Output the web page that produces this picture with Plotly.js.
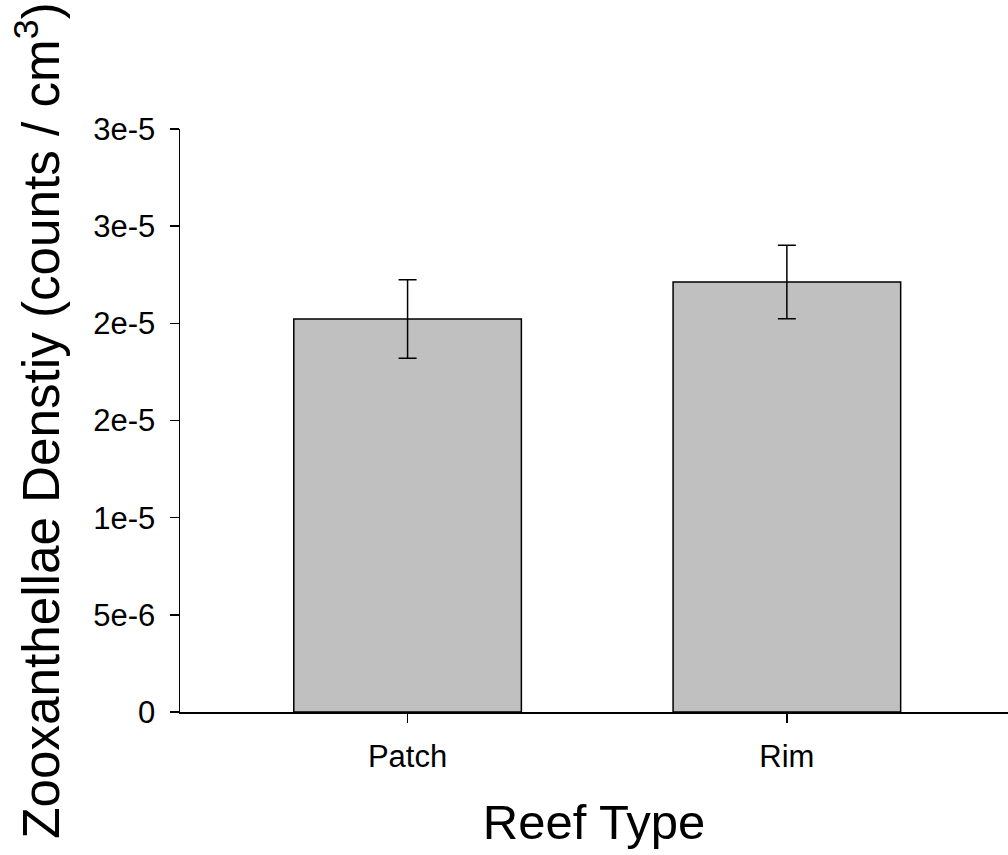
<!DOCTYPE html>
<html>
<head>
<meta charset="utf-8">
<script src="https://cdn.plot.ly/plotly-3.0.1.min.js"></script>
<style>
html,body{margin:0;padding:0;background:#fff;}
#chart{width:1008px;height:855px;}
</style>
</head>
<body>
<div id="chart"></div>
<script>
const categories = ["Patch", "Rim"];
const density = [2.022e-5, 2.213e-5];
const densityErr = [2.02e-6, 1.89e-6];
const yTickVals = [0, 5e-6, 1e-5, 1.5e-5, 2e-5, 2.5e-5, 3e-5];
const yTickText = ["0", "5e-6", "1e-5", "2e-5", "2e-5", "3e-5", "3e-5"];

const FONT = "Liberation Sans, Arial, sans-serif";

const trace = {
  type: "bar",
  x: categories,
  y: density,
  width: 0.6,
  marker: {color: "#c0c0c0", line: {color: "#000", width: 1.5}},
  error_y: {type: "data", array: densityErr, visible: true, color: "#000", thickness: 1.5, width: 9},
  hoverinfo: "none"
};

const layout = {
  width: 1008, height: 855,
  margin: {l: 180, r: 0, t: 129, b: 143},
  paper_bgcolor: "#fff", plot_bgcolor: "#fff",
  showlegend: false,
  font: {family: FONT, color: "#000"},
  xaxis: {
    type: "category",
    range: [-0.6, 1.583],
    showline: true, linecolor: "#000", linewidth: 1.5,
    ticks: "outside", ticklen: 9, tickwidth: 1.5, tickcolor: "#000",
    tickfont: {size: 31, family: FONT},
    ticklabelstandoff: 7,
    showgrid: false, zeroline: false,
    automargin: false,
    title: {text: "Reef Type", font: {size: 49, family: FONT}, standoff: 32}
  },
  yaxis: {
    range: [0, 3e-5],
    tickvals: yTickVals, ticktext: yTickText,
    showline: true, linecolor: "#000", linewidth: 1.5,
    ticks: "outside", ticklen: 9, tickwidth: 1.5, tickcolor: "#000",
    tickfont: {size: 31, family: FONT},
    ticklabelstandoff: 8,
    showgrid: false, zeroline: false,
    automargin: false,
    title: {text: "Zooxanthellae Denstiy (counts / cm<sup>3</sup>)", font: {size: 51.2, family: FONT}, standoff: 17}
  }
};

Plotly.newPlot("chart", [trace], layout, {staticPlot: true, displayModeBar: false});
</script>
</body>
</html>
